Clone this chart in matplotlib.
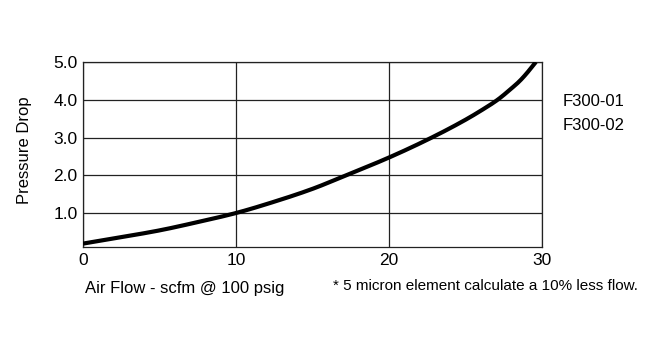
import matplotlib
matplotlib.use("Agg")
import matplotlib.pyplot as plt
import numpy as np

plt.rcParams['font.family'] = ['Liberation Sans Narrow', 'Liberation Sans', 'DejaVu Sans']

# pressure drop curve
flow = [0, 2.5, 5, 7.5, 10, 12.5, 15, 17.2, 20, 22.8, 25, 26, 27.1, 28, 28.5, 29, 29.3, 29.6]
drop = [0.19, 0.36, 0.54, 0.76, 1.0, 1.3, 1.64, 2.0, 2.47, 3.0, 3.47, 3.71, 4.0, 4.3, 4.48, 4.7, 4.85, 5.0]

xticks = [0, 10, 20, 30]
yticks = [1.0, 2.0, 3.0, 4.0, 5.0]
models = ['F300-01', 'F300-02']


def pchip(x, y, xs):
    # monotone cubic so the line passes through every read point
    x = np.asarray(x, float)
    y = np.asarray(y, float)
    h = np.diff(x)
    d = np.diff(y) / h
    m = np.zeros_like(y)
    for i in range(1, len(y) - 1):
        if d[i - 1] * d[i] > 0:
            w1 = 2 * h[i] + h[i - 1]
            w2 = h[i] + 2 * h[i - 1]
            m[i] = (w1 + w2) / (w1 / d[i - 1] + w2 / d[i])
    m[0] = d[0]
    m[-1] = d[-1]
    idx = np.clip(np.searchsorted(x, xs) - 1, 0, len(h) - 1)
    t = (xs - x[idx]) / h[idx]
    h00 = 2*t**3 - 3*t**2 + 1
    h10 = t**3 - 2*t**2 + t
    h01 = -2*t**3 + 3*t**2
    h11 = t**3 - t**2
    return h00*y[idx] + h10*h[idx]*m[idx] + h01*y[idx + 1] + h11*h[idx]*m[idx + 1]


fig = plt.figure(figsize=(6.5, 3.49), dpi=100)
ax = fig.add_axes([83/650, 1 - 247/349, (542 - 83)/650, (247 - 62)/349])

xs = np.linspace(flow[0], flow[-1], 400)
ax.plot(xs, pchip(flow, drop, xs), color='black', lw=3.0, solid_capstyle='butt', zorder=3)

ax.set_xlim(0, 30)
ax.set_ylim(0.1, 5.0)
ax.set_xticks(xticks)
ax.set_yticks(yticks)
ax.set_xticklabels([str(t) for t in xticks], fontsize=12.5)
ax.set_yticklabels(['%.1f' % t for t in yticks], fontsize=12.5)
ax.tick_params(length=0, pad=4)
ax.grid(True, color='#222222', lw=0.9)
for s in ax.spines.values():
    s.set_color('#222222')
    s.set_linewidth(0.9)

fig.text(25/650, 1 - 150/349, 'Pressure Drop', rotation=90, ha='center', va='center', fontsize=12)
fig.text(85/650, 1 - 288/349, 'Air Flow - scfm @ 100 psig', ha='left', va='center', fontsize=12)
fig.text(333/650, 1 - 286/349, '* 5 micron element calculate a 10% less flow.', ha='left', va='center', fontsize=11)
for i, m in enumerate(models):
    fig.text(563/650, 1 - (101 + 25*i)/349, m, ha='left', va='center', fontsize=12)

fig.savefig('out.png', dpi=100, facecolor='white')
